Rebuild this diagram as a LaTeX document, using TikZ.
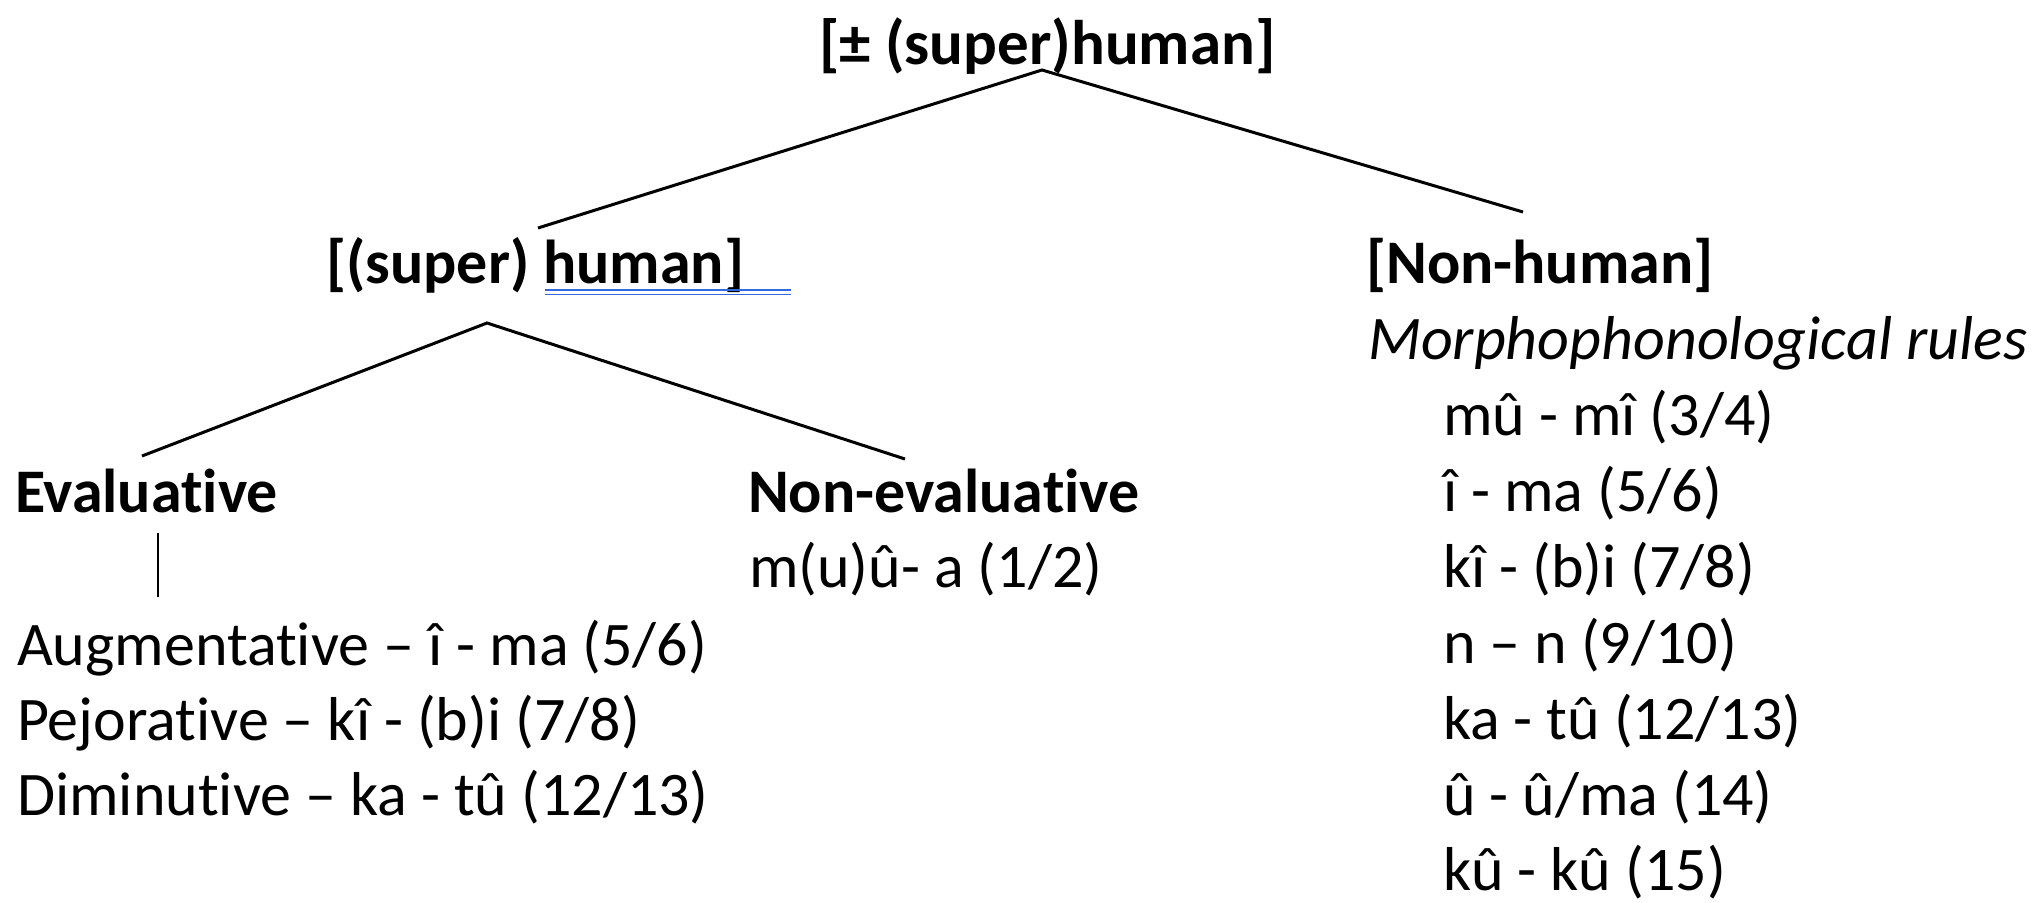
\documentclass[tikz,border=0pt]{standalone}
\usepackage{fontspec}
\setmainfont{Carlito}[RawFeature={-liga;-clig;-calt;-dlig}]
\definecolor{spell}{RGB}{50,105,225}
\begin{document}
\begin{tikzpicture}[x=1pt,y=-1pt,
  txt/.style={anchor=base west,inner sep=0pt,outer sep=0pt,font=\fontsize{62pt}{76pt}\selectfont},
  hd/.style={txt,font=\fontsize{62pt}{76pt}\selectfont\bfseries},
  ttl/.style={txt,font=\fontsize{63pt}{76pt}\selectfont\bfseries},
  edge/.style={line width=3pt,black}]
\useasboundingbox (0,0) rectangle (2044,902);
% nodes
\node[ttl] (root) at (819,64) {[± (super)human]};
\node[hd] (hum) at (326,283) {[(super) human]};
\node[hd] (nonhum) at (1366,283) {[Non-human]};
\node[txt,font=\fontsize{62pt}{76pt}\selectfont\itshape] (morph) at (1368,359) {Morphophonological rules};
\node[hd] (eval) at (15,512) {Evaluative};
\node[hd] (noneval) at (748,512) {Non-evaluative};
\node[txt] (muua) at (749,587) {m(u)û- a (1/2)};
\node[txt] (aug) at (17,665) {Augmentative – î - ma (5/6)};
\node[txt] (pej) at (17,740) {Pejorative – kî - (b)i (7/8)};
\node[txt] (dim) at (17,815) {Diminutive – ka - tû (12/13)};
\node[txt] (r1) at (1443,435) {mû - mî (3/4)};
\node[txt] (r2) at (1443,511) {î - ma (5/6)};
\node[txt] (r3) at (1443,587) {kî - (b)i (7/8)};
\node[txt] (r4) at (1443,663) {n – n (9/10)};
\node[txt] (r5) at (1443,739) {ka - tû (12/13)};
\node[txt] (r6) at (1443,815) {û - û/ma (14)};
\node[txt] (r7) at (1443,890) {kû - kû (15)};
% connector points
\coordinate (rootapex) at (1042,70);
\coordinate (humtop) at (538,228);
\coordinate (nonhumtop) at (1523,212);
\coordinate (humapex) at (487,323);
\coordinate (evaltop) at (142,456);
\coordinate (nonevaltop) at (905,459);
\coordinate (evalbot) at (158,533);
\coordinate (augtop) at (158,597);
% connectors
\draw[edge] (humtop) -- (rootapex) -- (nonhumtop);
\draw[edge] (evaltop) -- (humapex) -- (nonevaltop);
\draw[line width=2.6pt] (evalbot) -- (augtop);
% double underline
\coordinate (ulA) at (545,290);
\coordinate (ulB) at (791,290);
\draw[spell,line width=1.5pt] (ulA) -- (ulB);
\draw[spell,line width=1.5pt] ([yshift=-4.3pt]ulA) -- ([yshift=-4.3pt]ulB);
\end{tikzpicture}
\end{document}
